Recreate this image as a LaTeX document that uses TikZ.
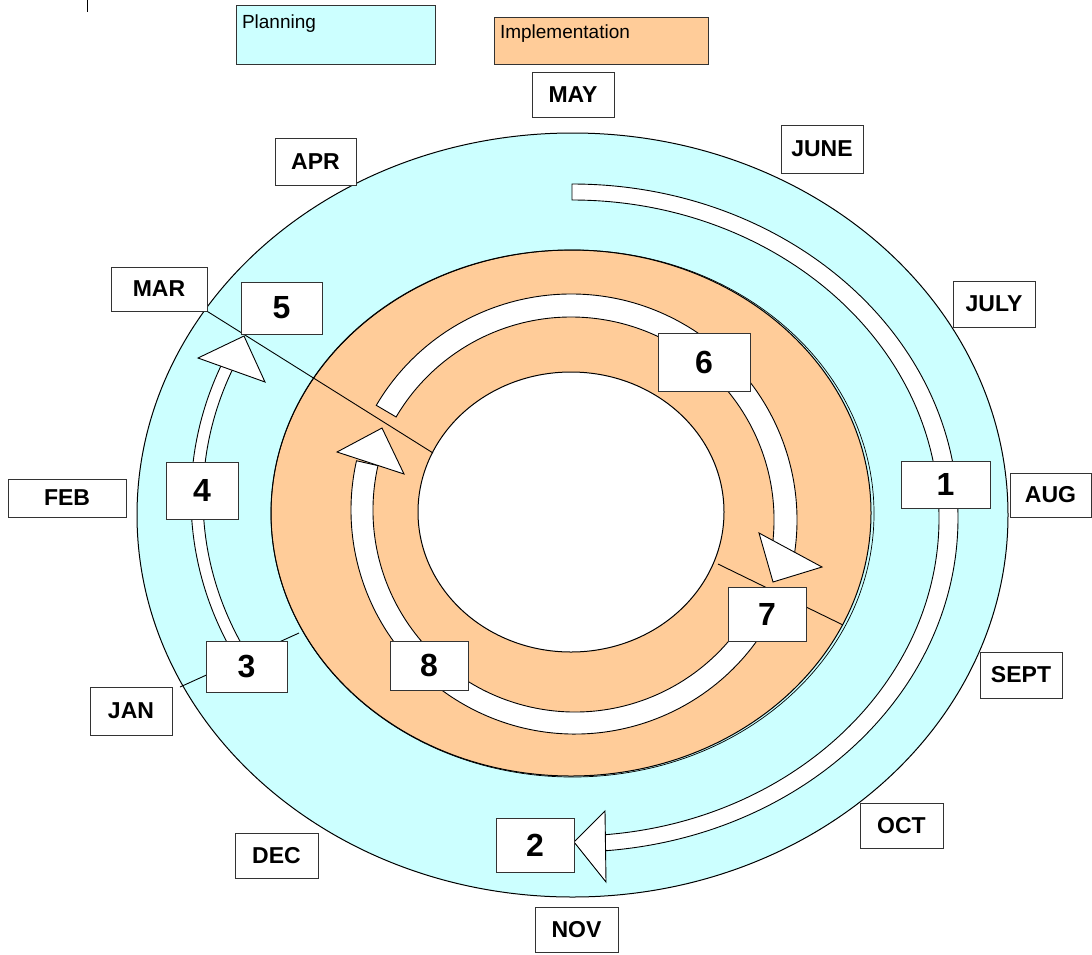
\documentclass[tikz,border=0pt]{standalone}
\usepackage{fontspec}
\setmainfont{Liberation Sans}
\usetikzlibrary{calc}
\definecolor{planfill}{HTML}{CCFFFF}
\definecolor{implfill}{HTML}{FFCC99}
\definecolor{edge}{HTML}{333333}

% white band along an elliptical arc: centre, start/end angle, outer radii, inner radii
\newcommand{\bandarc}[7]{%
  \filldraw[band] ($(#1)+(#2:#4 and #5)$)
    arc[start angle=#2, end angle=#3, x radius=#4, y radius=#5]
    -- ($(#1)+(#3:#6 and #7)$)
    arc[start angle=#3, end angle=#2, x radius=#6, y radius=#7] -- cycle;}

\begin{document}
\begin{tikzpicture}[x=1pt, y=-1pt, line width=1pt,
  monthbox/.style={draw=edge, fill=white, inner sep=0pt, font=\fontsize{23}{27}\selectfont\bfseries},
  numbox/.style={draw=edge, fill=white, inner sep=0pt, font=\fontsize{32}{36}\selectfont\bfseries},
  legendbox/.style={draw=edge, inner sep=0pt},
  legendtext/.style={anchor=north west, inner sep=0pt, font=\fontsize{19}{22}\selectfont},
  band/.style={draw=black, fill=white, line width=0.9pt},
  arrowtri/.style={draw=black, fill=white, line width=0.9pt, line join=miter},
  divider/.style={draw=black, line width=0.9pt},
  ring/.style={draw=black, line width=1pt}]

\useasboundingbox (0,0) rectangle (1092,954);
\fill[white] (0,0) rectangle (1092,954);

% small tick at the top left
\coordinate (tickA) at (87,0);
\coordinate (tickB) at (87,12);
\draw[line width=0.8pt] (tickA) -- (tickB);

% the three rings
\coordinate (cOuter) at (572.5,515);
\coordinate (cMid) at (571,513);
\coordinate (cMidB) at (572.5,513.5);
\coordinate (cInner) at (571,512);
\filldraw[ring, fill=planfill] (cOuter) ellipse[x radius=435.5, y radius=382];
\filldraw[ring, fill=implfill] (cMid) ellipse[x radius=300, y radius=263];
\draw[line width=0.7pt] (cMidB) ellipse[x radius=301.5, y radius=263.5];
\filldraw[ring, fill=white] (cInner) ellipse[x radius=153, y radius=140];

% arc centres
\coordinate (cR) at (572,518);
\coordinate (cL) at (572,498);
\coordinate (cA) at (571,520);
\coordinate (cB) at (575,510);

% planning bands
\bandarc{cR}{270}{445}{386}{334}{367}{318}
\bandarc{cL}{150}{204}{381}{340}{369}{328}
% implementation bands
\bandarc{cA}{210.5}{370}{226}{226}{203}{203}
\bandarc{cB}{25}{192.7}{224}{224}{202}{202}

% month boxes
\node[monthbox, minimum width=82pt, minimum height=45pt] (may) at (573,94.5) {MAY};
\node[monthbox, minimum width=82pt, minimum height=48pt] (june) at (822,149) {JUNE};
\node[monthbox, minimum width=81pt, minimum height=47pt] (apr) at (315.5,161.5) {APR};
\node[monthbox, minimum width=82pt, minimum height=46pt] (july) at (994,304) {JULY};
\node[monthbox, minimum width=96pt, minimum height=44pt] (mar) at (159,289) {MAR};
\node[monthbox, minimum width=118pt, minimum height=38pt] (feb) at (67,498) {FEB};
\node[monthbox, minimum width=81pt, minimum height=44pt] (aug) at (1050.5,495) {AUG};
\node[monthbox, minimum width=82pt, minimum height=46pt] (sept) at (1021,675) {SEPT};
\node[monthbox, minimum width=82pt, minimum height=48pt] (jan) at (131,711) {JAN};
\node[monthbox, minimum width=83pt, minimum height=45pt] (oct) at (901.5,825.5) {OCT};
\node[monthbox, minimum width=83pt, minimum height=45pt] (dec) at (276.5,855.5) {DEC};
\node[monthbox, minimum width=83pt, minimum height=45pt] (nov) at (576.5,929.5) {NOV};

% phase dividers
\coordinate (marEnd) at (433,453);
\coordinate (septA) at (718,564);
\coordinate (septB) at (843,625);
\coordinate (janA) at (180,687);
\coordinate (janB) at (299,633);
\draw[divider] (mar.south east) -- (marEnd);
\draw[divider] (septA) -- (septB);
\draw[divider] (janA) -- (janB);

% arrow heads
\coordinate (t5a) at (198,358);
\coordinate (t5b) at (244,336);
\coordinate (t5c) at (265,382);
\filldraw[arrowtri] (t5a) -- (t5b) -- (t5c) -- cycle;
\coordinate (t2a) at (605,811);
\coordinate (t2b) at (574,842);
\coordinate (t2c) at (606,882);
\filldraw[arrowtri] (t2a) -- (t2b) -- (t2c) -- cycle;
\coordinate (tAa) at (759,533);
\coordinate (tAb) at (822,567);
\coordinate (tAc) at (773,582);
\filldraw[arrowtri] (tAa) -- (tAb) -- (tAc) -- cycle;
\coordinate (tBa) at (337,452);
\coordinate (tBb) at (382,428);
\coordinate (tBc) at (404,474);
\filldraw[arrowtri] (tBa) -- (tBb) -- (tBc) -- cycle;

% step number boxes
\node[numbox, minimum width=89pt, minimum height=47pt] (s1) at (945.5,484.5) {1};
\node[numbox, minimum width=78pt, minimum height=54pt] (s2) at (535,845) {2};
\node[numbox, minimum width=81pt, minimum height=51pt] (s3) at (246.5,666.5) {3};
\node[numbox, minimum width=72pt, minimum height=57pt] (s4) at (202,490.5) {4};
\node[numbox, minimum width=81pt, minimum height=52pt] (s5) at (281.5,308) {5};
\node[numbox, minimum width=92pt, minimum height=58pt] (s6) at (704,362) {6};
\node[numbox, minimum width=78pt, minimum height=54pt] (s7) at (767,614) {7};
\node[numbox, minimum width=78pt, minimum height=49pt] (s8) at (429,665.5) {8};

% legend
\node[legendbox, fill=planfill, minimum width=199pt, minimum height=59pt] (plan) at (335.5,34.5) {};
\node[legendtext] (plantext) at ($(plan.north west)+(6,10)$) {Planning};
\node[legendbox, fill=implfill, minimum width=214pt, minimum height=47pt] (impl) at (601,40.5) {};
\node[legendtext] (impltext) at ($(impl.north west)+(6,8)$) {Implementation};
\end{tikzpicture}
\end{document}
